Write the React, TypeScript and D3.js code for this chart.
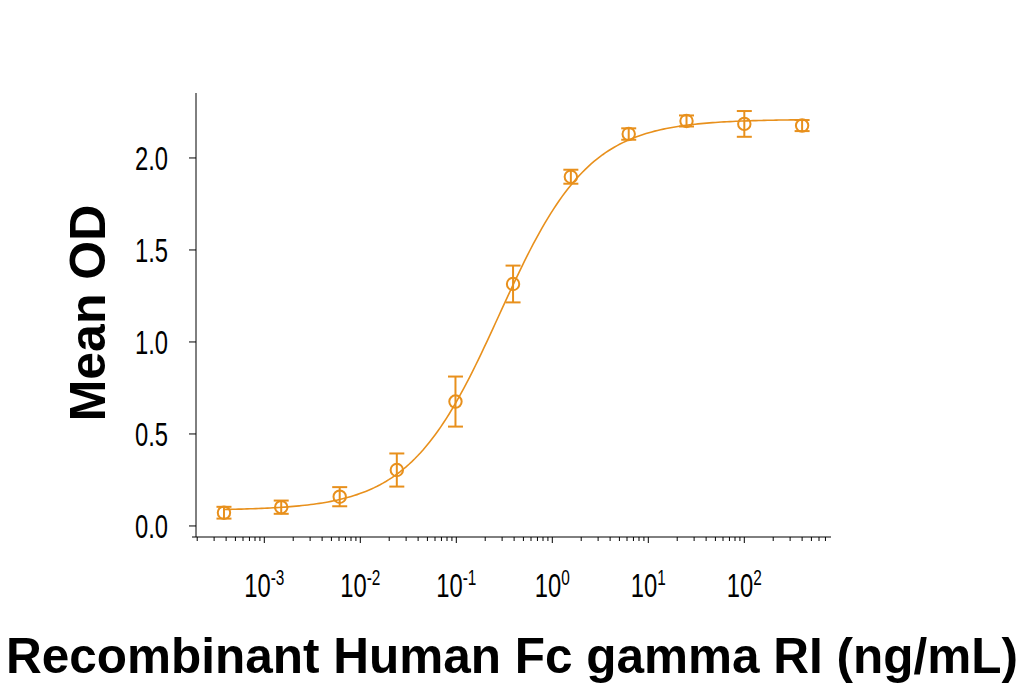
import React from 'react';
import * as d3 from 'd3';

// Concentrations (ng/mL), 4-fold serial dilution from 400
const concentrations = [0.00038, 0.0015, 0.0061, 0.024, 0.098, 0.39, 1.56, 6.25, 25, 100, 400];
const meanOD = [0.072, 0.102, 0.159, 0.304, 0.676, 1.315, 1.898, 2.13, 2.201, 2.185, 2.176];
const errOD = [0.032, 0.036, 0.052, 0.09, 0.136, 0.1, 0.038, 0.031, 0.03, 0.07, 0.03];

// 4PL fit: bottom, top, EC50 (ng/mL), hill slope
const fitParams = [0.085, 2.21, 0.28, 0.93];

const yTicks = [0, 0.5, 1.0, 1.5, 2.0];
const xDecades = [-3, -2, -1, 0, 1, 2];

const W = 1025;
const H = 686;
const ORANGE = '#e8901c';
const TICK_FONT = '"Liberation Sans", Arial, sans-serif';
const TITLE_FONT = '"Liberation Sans", Arial, sans-serif';
const SQUEEZE = 0.7; // tick labels are a condensed face

export default function App() {
  const x = d3.scaleLog().domain([Math.pow(10, -3.722), Math.pow(10, 2.903)]).range([195, 831]);
  const y = d3.scaleLinear().domain([-0.06, 2.353]).range([537, 93]);

  const [bottom, top, ec50, hill] = fitParams;
  const fit = (c: number) => bottom + (top - bottom) / (1 + Math.pow(ec50 / c, hill));
  const logMin = Math.log10(concentrations[0]);
  const logMax = Math.log10(concentrations[concentrations.length - 1]);
  const curvePts = d3.range(0, 201).map(i => {
    const c = Math.pow(10, logMin + (logMax - logMin) * i / 200);
    return [c, fit(c)] as [number, number];
  });
  const line = d3.line<[number, number]>().x(d => x(d[0])).y(d => y(d[1]));

  const [d0, d1] = x.domain();
  const minorTicks: number[] = [];
  for (let e = -4; e <= 3; e++) {
    for (let m = 1; m <= 9; m++) {
      const v = m * Math.pow(10, e);
      if (v >= d0 && v <= d1) minorTicks.push(v);
    }
  }

  const axisY = 537;
  const axisX = 196;

  return (
    <svg width={W} height={H} style={{ position: 'absolute', left: 0, top: 0, background: '#fff' }}>
      {/* y axis */}
      <line x1={axisX} x2={axisX} y1={93} y2={axisY} stroke="#000" strokeWidth={1} />
      {yTicks.map(t => (
        <g key={t}>
          <line x1={axisX - 7} x2={axisX} y1={y(t)} y2={y(t)} stroke="#000" strokeWidth={1} />
          <text
            transform={`translate(168,${y(t) + 12}) scale(${SQUEEZE},1)`}
            textAnchor="end"
            fontFamily={TICK_FONT}
            fontSize={34}
            fill="#000"
          >
            {t.toFixed(1)}
          </text>
        </g>
      ))}

      {/* x axis */}
      <line x1={axisX - 4} x2={831} y1={axisY} y2={axisY} stroke="#000" strokeWidth={1} />
      {minorTicks.map((t, i) => {
        const major = Math.abs(Math.log10(t) - Math.round(Math.log10(t))) < 1e-9;
        return (
          <line key={i} x1={x(t)} x2={x(t)} y1={axisY} y2={axisY + (major ? 6 : 4)} stroke="#000" strokeWidth={1} />
        );
      })}
      {xDecades.map(e => (
        <text
          key={e}
          transform={`translate(${x(Math.pow(10, e))},597) scale(${SQUEEZE},1)`}
          textAnchor="middle"
          fontFamily={TICK_FONT}
          fontSize={34}
          fill="#000"
        >
          10<tspan dy={-12} fontSize={22}>{e}</tspan>
        </text>
      ))}

      {/* fit curve */}
      <path d={line(curvePts) || ''} fill="none" stroke={ORANGE} strokeWidth={1.6} />

      {/* points with error bars */}
      {concentrations.map((c, i) => {
        const cx = x(c);
        const yt = y(meanOD[i] + errOD[i]);
        const yb = y(meanOD[i] - errOD[i]);
        return (
          <g key={i} stroke={ORANGE} strokeWidth={2} fill="none">
            <line x1={cx} x2={cx} y1={yt} y2={yb} />
            <line x1={cx - 7.5} x2={cx + 7.5} y1={yt} y2={yt} />
            <line x1={cx - 7.5} x2={cx + 7.5} y1={yb} y2={yb} />
            <circle cx={cx} cy={y(meanOD[i])} r={6.2} />
          </g>
        );
      })}

      {/* axis titles */}
      <text
        transform="translate(105,313) rotate(-90)"
        textAnchor="middle"
        fontFamily={TITLE_FONT}
        fontWeight="bold"
        fontSize={50}
        fill="#000"
      >
        Mean OD
      </text>
      <text x={512} y={673} textAnchor="middle" fontFamily={TITLE_FONT} fontWeight="bold" fontSize={49.5} fill="#000">
        Recombinant Human Fc gamma RI (ng/mL)
      </text>
    </svg>
  );
}
